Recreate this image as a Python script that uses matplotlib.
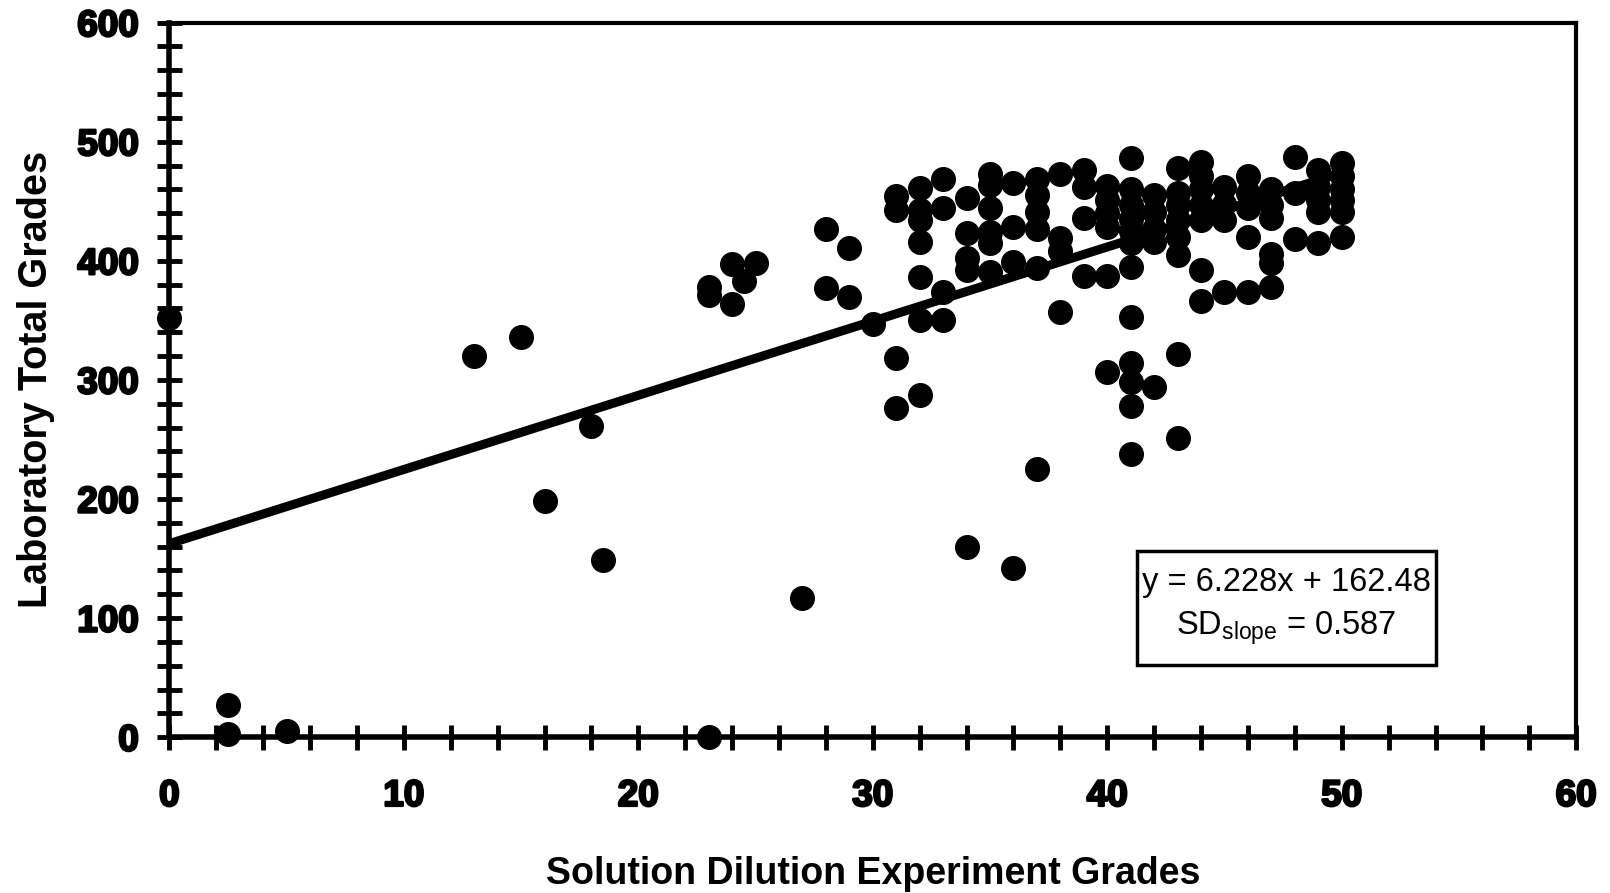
import matplotlib
matplotlib.use("Agg")
import matplotlib.pyplot as plt
import matplotlib.patheffects as pe
from matplotlib.patches import Rectangle
import numpy as np

plt.rcParams['font.family'] = ['Liberation Sans', 'DejaVu Sans']
plt.rcParams['mathtext.fontset'] = 'custom'
plt.rcParams['mathtext.rm'] = 'Liberation Sans'
plt.rcParams['mathtext.it'] = 'Liberation Sans'

# Data: (Solution Dilution Experiment Grade, Laboratory Total Grade)
x_vals = [0, 2.5, 2.5, 5, 23,
          13, 15, 16, 18, 18.5,
          23, 23, 24, 25, 24.5, 24,
          27, 28, 29, 28, 29, 30,
          31, 31, 31, 31,
          32, 32, 32, 32, 32, 32, 32,
          33, 33, 33, 33,
          34, 34, 34, 34, 34,
          35, 35, 35, 35, 35, 35,
          36, 36, 36, 36,
          37, 37, 37, 37, 37, 37,
          38, 38, 38, 38,
          39, 39, 39, 39,
          40, 40, 40, 40, 40, 40,
          41, 41, 41, 41, 41, 41, 41, 41, 41, 41, 41, 41,
          42, 42, 42, 42, 42,
          43, 43, 43, 43, 43, 43, 43, 43,
          44, 44, 44, 44, 44, 44, 44,
          45, 45, 45, 45,
          46, 46, 46, 46, 46,
          47, 47, 47, 47, 47, 47,
          48, 48, 48,
          49, 49, 49, 49, 49,
          50, 50, 50, 50, 50, 50]
y_vals = [352, 27, 3, 5, 0,
          320, 336, 198, 261, 149,
          378, 371, 397, 398, 383, 364,
          117, 427, 411, 377, 370, 347,
          454, 443, 318, 276,
          461, 443, 434, 416, 386, 350, 287,
          469, 444, 374, 350,
          453, 423, 402, 392, 160,
          473, 464, 444, 424, 415, 391,
          465, 428, 399, 142,
          469, 455, 441, 427, 394, 225,
          473, 419, 408, 357,
          476, 462, 436, 387,
          463, 451, 440, 428, 387, 307,
          486, 460, 447, 435, 425, 415, 395, 353, 314, 298, 278, 238,
          455, 441, 427, 416, 294,
          478, 457, 447, 434, 420, 405, 322, 251,
          483, 471, 460, 447, 434, 392, 366,
          462, 448, 434, 374,
          471, 457, 444, 420, 374,
          460, 447, 436, 406, 398, 378,
          487, 457, 418,
          476, 462, 451, 441, 415,
          482, 471, 460, 451, 441, 420]

slope = 6.228
intercept = 162.48
sd_slope = 0.587
fit_range = [0, 50]

x_ticks = [0, 10, 20, 30, 40, 50, 60]
y_ticks = [0, 100, 200, 300, 400, 500, 600]

fig = plt.figure(figsize=(16.10, 8.93), dpi=100)
ax = fig.add_axes([0.1052, 0.1745, 0.8738, 0.8002])

fx = np.array(fit_range, dtype=float)
ax.plot(fx, slope * fx + intercept, color='black', lw=6.5, zorder=2,
        solid_capstyle='butt')
ax.plot(x_vals, y_vals, 'o', color='black', ms=17, zorder=3, clip_on=False)

ax.set_xlim(0, 60)
ax.set_ylim(0, 600)
ax.set_xticks(x_ticks)
ax.set_yticks(y_ticks)
ax.set_xticks(np.arange(0, 61, 2), minor=True)
ax.set_yticks(np.arange(0, 601, 20), minor=True)

ax.tick_params(which='both', direction='inout', width=3.5, length=18,
               top=False, right=False, labelsize=26.5)
ax.tick_params(axis='x', which='major', pad=21)
ax.tick_params(axis='y', which='major', pad=13)
for lab in ax.get_xticklabels() + ax.get_yticklabels():
    lab.set_fontweight('bold')
    lab.set_path_effects([pe.withStroke(linewidth=1.8, foreground='black')])

for side in ['left', 'bottom']:
    ax.spines[side].set_linewidth(4)
for side in ['top', 'right']:
    ax.spines[side].set_linewidth(3)

ax.set_xlabel('Solution Dilution Experiment Grades', fontsize=27,
              fontweight='bold', labelpad=30)
ax.set_ylabel('Laboratory Total Grades', fontsize=28.5, fontweight='bold',
              labelpad=16)

# equation box
ax.add_patch(Rectangle((0.6876, 0.1006), 0.2124, 0.1594, transform=ax.transAxes,
                       fc='white', ec='black', lw=2.5, zorder=5))
ax.text(0.7939, 0.1825,
        'y = %.3fx + %.2f\nSD$_{\\mathrm{slope}}$ = %.3f' % (slope, intercept, sd_slope),
        transform=ax.transAxes, ha='center', va='center', fontsize=23.5,
        linespacing=1.45, zorder=6)

fig.savefig('out.png', dpi=100, facecolor='white')
